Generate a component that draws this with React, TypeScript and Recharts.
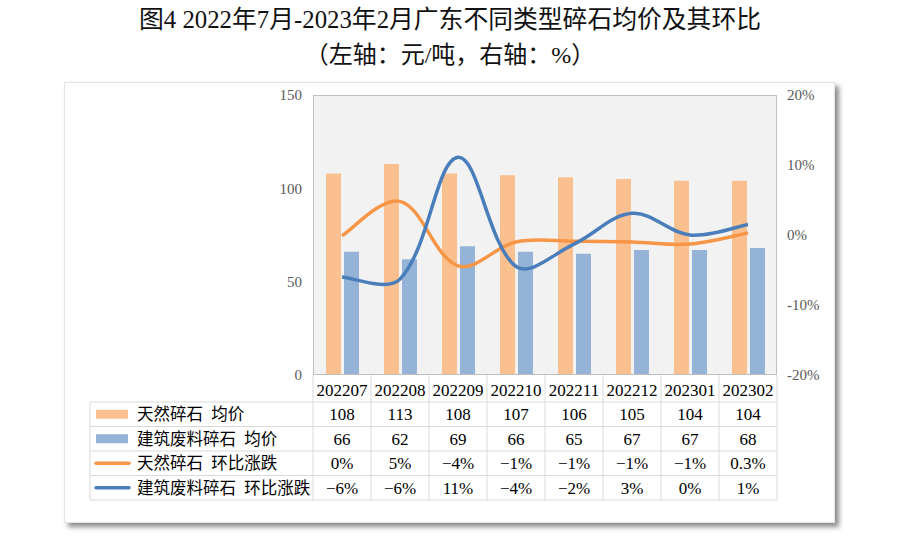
import { ComposedChart, Bar, Line, XAxis, YAxis, CartesianGrid } from 'recharts';

const months = ['202207', '202208', '202209', '202210', '202211', '202212', '202301', '202302'];
const naturalPrice = [108, 113, 108, 107, 106, 105, 104, 104];
const recycledPrice = [66, 62, 69, 66, 65, 67, 67, 68];
const naturalChange = [-0.1, 4.8, -4.4, -1.0, -0.9, -1.0, -1.3, 0.3];
const recycledChange = [-6.0, -6.3, 11.1, -4.5, -1.3, 3.1, 0.0, 1.5];
const naturalChangeLabels = ['0%', '5%', '−4%', '−1%', '−1%', '−1%', '−1%', '0.3%'];
const recycledChangeLabels = ['−6%', '−6%', '11%', '−4%', '−2%', '3%', '0%', '1%'];
const leftTicks = [0, 50, 100, 150];
const rightTicks = [-20, -10, 0, 10, 20];

const seriesNames = ['天然碎石  均价', '建筑废料碎石  均价', '天然碎石  环比涨跌', '建筑废料碎石  环比涨跌'];
const ORANGE_BAR = '#fac090';
const BLUE_BAR = '#95b3d7';
const ORANGE_LINE = '#f79646';
const BLUE_LINE = '#4a7ebb';
const GRID = '#d9d9d9';
const FONT = '"Liberation Serif", "Noto Sans CJK SC", serif';

const W = 900;
const H = 544;
const PLOT_LEFT = 313;
const PLOT_RIGHT = 777;
const PLOT_TOP = 95;
const PLOT_BOTTOM = 375;
const AXIS_W = 60;
const XAXIS_H = 130;
const ROW_TOP = 402;
const ROW_H = 24.5;
const LEGEND_LEFT = 90;

const data = months.map((m, i) => ({
  month: m,
  natural: naturalPrice[i],
  recycled: recycledPrice[i],
  naturalChg: naturalChange[i],
  recycledChg: recycledChange[i],
}));

const rows = [
  naturalPrice.map(String),
  recycledPrice.map(String),
  naturalChangeLabels,
  recycledChangeLabels,
];

// smoothed line, control arms scaled by neighbouring segment lengths (close to excel's look)
function smoothCurve(context: any) {
  let pts: number[][] = [];
  const t = 0.36;
  return {
    areaStart() {},
    areaEnd() {},
    lineStart() {
      pts = [];
    },
    point(x: number, y: number) {
      pts.push([+x, +y]);
    },
    lineEnd() {
      const n = pts.length;
      if (!n) return;
      const cin: number[][] = [];
      const cout: number[][] = [];
      for (let i = 0; i < n; i++) {
        const p = pts[i];
        if (i === 0 || i === n - 1) {
          const q = pts[i === 0 ? Math.min(1, n - 1) : Math.max(n - 2, 0)];
          const c = [p[0] + (q[0] - p[0]) * t / 2, p[1] + (q[1] - p[1]) * t / 2];
          cin.push(c);
          cout.push(c);
          continue;
        }
        const a = pts[i - 1];
        const b = pts[i + 1];
        const d01 = Math.hypot(p[0] - a[0], p[1] - a[1]);
        const d12 = Math.hypot(b[0] - p[0], b[1] - p[1]);
        const s = d01 + d12 || 1;
        const vx = b[0] - a[0];
        const vy = b[1] - a[1];
        cin.push([p[0] - vx * t * d01 / s, p[1] - vy * t * d01 / s]);
        cout.push([p[0] + vx * t * d12 / s, p[1] + vy * t * d12 / s]);
      }
      context.moveTo(pts[0][0], pts[0][1]);
      for (let i = 0; i < n - 1; i++) {
        context.bezierCurveTo(cout[i][0], cout[i][1], cin[i + 1][0], cin[i + 1][1], pts[i + 1][0], pts[i + 1][1]);
      }
    },
  };
}

function LegendColumn() {
  const right = PLOT_LEFT;
  return (
    <g>
      {[0, 1, 2, 3, 4].map((r) => (
        <line key={r} x1={LEGEND_LEFT} x2={right} y1={ROW_TOP + r * ROW_H} y2={ROW_TOP + r * ROW_H} stroke={GRID} />
      ))}
      <line x1={LEGEND_LEFT} x2={LEGEND_LEFT} y1={ROW_TOP} y2={ROW_TOP + 4 * ROW_H} stroke={GRID} />
      {seriesNames.map((name, r) => {
        const cy = ROW_TOP + r * ROW_H + ROW_H / 2;
        const color = [ORANGE_BAR, BLUE_BAR, ORANGE_LINE, BLUE_LINE][r];
        return (
          <g key={name}>
            {r < 2 ? (
              <rect x={96} y={cy - 4.5} width={32} height={9} fill={color} />
            ) : (
              <line x1={96} x2={129} y1={cy} y2={cy} stroke={color} strokeWidth={3.5} strokeLinecap="round" />
            )}
            <text x={137} y={cy} dy="0.36em" fontSize={16.5} fill="#000" fontFamily={FONT} style={{ whiteSpace: 'pre' }}>
              {name}
            </text>
          </g>
        );
      })}
    </g>
  );
}

function TableTick(props: any) {
  const { x, payload } = props;
  const i = payload.index;
  const bw = (PLOT_RIGHT - PLOT_LEFT) / months.length;
  const left = x - bw / 2;
  const right = x + bw / 2;
  const bottom = ROW_TOP + 4 * ROW_H;
  return (
    <g>
      {i === 0 && <LegendColumn />}
      {i === 0 && <line x1={left} x2={left} y1={PLOT_BOTTOM} y2={bottom} stroke={GRID} />}
      <line x1={right} x2={right} y1={PLOT_BOTTOM} y2={bottom} stroke={GRID} />
      {[0, 1, 2, 3, 4].map((r) => (
        <line key={r} x1={left} x2={right} y1={ROW_TOP + r * ROW_H} y2={ROW_TOP + r * ROW_H} stroke={GRID} />
      ))}
      <text x={x} y={(PLOT_BOTTOM + ROW_TOP) / 2 + 1} dy="0.36em" textAnchor="middle" fontSize={17} fill="#000" fontFamily={FONT}>
        {payload.value}
      </text>
      {rows.map((row, r) => (
        <text
          key={r}
          x={x}
          y={ROW_TOP + r * ROW_H + ROW_H / 2}
          dy="0.36em"
          textAnchor="middle"
          fontSize={17}
          fill="#000"
          fontFamily={FONT}
        >
          {row[i]}
        </text>
      ))}
    </g>
  );
}

export default function App() {
  return (
    <div style={{ position: 'absolute', left: 0, top: 0, width: W, height: H, background: '#fff', fontFamily: FONT }}>
      <div style={{ position: 'absolute', left: 0, top: 4, width: W, textAlign: 'center', fontSize: 24.8, lineHeight: '32px', color: '#111' }}>
        图4 2022年7月-2023年2月广东不同类型碎石均价及其环比
      </div>
      <div style={{ position: 'absolute', left: 0, top: 39, width: W, textAlign: 'center', fontSize: 24, lineHeight: '32px', color: '#111' }}>
        （左轴：元/吨，右轴：%）
      </div>
      <div
        style={{
          position: 'absolute',
          left: 64,
          top: 82,
          width: 769,
          height: 439,
          background: '#fff',
          border: '1px solid #e3e3e3',
          boxShadow: '4px 4px 5px rgba(0,0,0,0.45)',
        }}
      />
      <div style={{ position: 'absolute', left: 0, top: 0 }}>
        <ComposedChart
          width={W}
          height={H}
          data={data}
          barSize={15}
          barGap={3}
          margin={{ top: PLOT_TOP, bottom: H - PLOT_BOTTOM - XAXIS_H, left: PLOT_LEFT - AXIS_W, right: W - PLOT_RIGHT - AXIS_W }}
        >
          <CartesianGrid fill="#f2f2f2" horizontal={false} vertical={false} />
          <XAxis
            dataKey="month"
            interval={0}
            height={XAXIS_H}
            axisLine={false}
            tickLine={false}
            tick={<TableTick />}
          />
          <YAxis
            yAxisId="left"
            width={AXIS_W}
            domain={[0, 150]}
            ticks={leftTicks}
            axisLine={false}
            tickLine={false}
            tickSize={0}
            tickMargin={11}
            tick={{ fill: '#595959', fontSize: 15, fontFamily: FONT }}
          />
          <YAxis
            yAxisId="right"
            orientation="right"
            width={AXIS_W}
            domain={[-20, 20]}
            ticks={rightTicks}
            axisLine={false}
            tickLine={false}
            tickSize={0}
            tickMargin={10}
            tickFormatter={(v) => `${v}%`}
            tick={{ fill: '#595959', fontSize: 15, fontFamily: FONT }}
          />
          <Bar yAxisId="left" dataKey="natural" fill={ORANGE_BAR} isAnimationActive={false} />
          <Bar yAxisId="left" dataKey="recycled" fill={BLUE_BAR} isAnimationActive={false} />
          <Line
            yAxisId="right"
            dataKey="naturalChg"
            type={smoothCurve as any}
            stroke={ORANGE_LINE}
            strokeWidth={3.5}
            dot={false}
            isAnimationActive={false}
          />
          <Line
            yAxisId="right"
            dataKey="recycledChg"
            type={smoothCurve as any}
            stroke={BLUE_LINE}
            strokeWidth={3.5}
            dot={false}
            isAnimationActive={false}
          />
        </ComposedChart>
      </div>
      <div
        style={{
          position: 'absolute',
          left: PLOT_LEFT,
          top: PLOT_TOP,
          width: PLOT_RIGHT - PLOT_LEFT,
          height: PLOT_BOTTOM - PLOT_TOP,
          border: '1px solid #bfbfbf',
          boxSizing: 'border-box',
          pointerEvents: 'none',
        }}
      />
    </div>
  );
}
